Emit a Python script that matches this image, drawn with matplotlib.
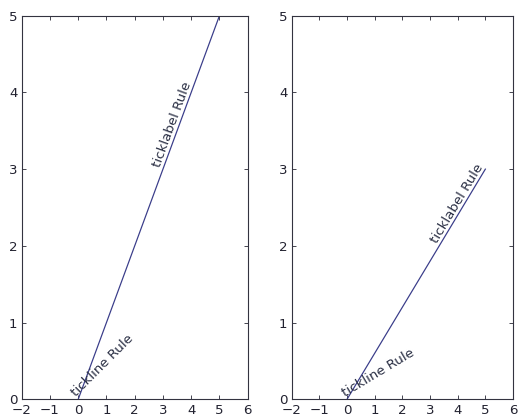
import numpy as np
import matplotlib
matplotlib.use("Agg")
import matplotlib.pyplot as plt

# Data
left_x = [0, 5]
left_y = [0, 5]
right_x = [0, 5]
right_y = [0, 3]
left_label_pos = (3, 3)
right_label_pos = (3.35, 2.0)
xlim = (-2, 6)
ylim = (0, 5)
xticks = [-2, -1, 0, 1, 2, 3, 4, 5, 6]
yticks = [0, 1, 2, 3, 4, 5]
label_line = "tickline Rule"
label_tick = "ticklabel Rule"

DPI = 80
plt.rcParams.update({
    "font.family": "DejaVu Sans",
    "font.size": 12,
    "xtick.direction": "in",
    "ytick.direction": "in",
    "xtick.top": True,
    "ytick.right": True,
    "xtick.major.size": 4,
    "ytick.major.size": 4,
    "xtick.major.pad": 4,
    "ytick.major.pad": 4,
    "xtick.color": "#333340",
    "ytick.color": "#333340",
    "axes.edgecolor": "#333340",
})

fig = plt.figure(figsize=(519 / DPI, 416 / DPI), dpi=DPI, facecolor="white")
W, H = 519, 416
ax1 = fig.add_axes([21.7 / W, 1 - 399.3 / H, (247.7 - 21.7) / W, (399.3 - 15.7) / H])
ax2 = fig.add_axes([291.7 / W, 1 - 399.3 / H, (513 - 291.7) / W, (399.3 - 15.7) / H])

line_color = "#3a3d8a"
text_color = "#2b3045"

for ax, xs, ys, lpos in [(ax1, left_x, left_y, left_label_pos),
                         (ax2, right_x, right_y, right_label_pos)]:
    ax.plot(xs, ys, color=line_color, lw=1.1)
    ax.set_xlim(*xlim)
    ax.set_ylim(*ylim)
    ax.set_xticks(xticks)
    ax.set_yticks(yticks)
    ax.set_xticklabels([str(t).replace("-", "\u2212") for t in xticks])
    ax.set_yticklabels([str(t) for t in yticks])
    for s in ax.spines.values():
        s.set_linewidth(1.0)
    ax.tick_params(labelcolor="#222230")
    # data-space angle
    data_angle = np.degrees(np.arctan2(ys[1] - ys[0], xs[1] - xs[0]))
    ax.text(xs[0], ys[0], label_line, rotation=data_angle, rotation_mode="anchor",
            ha="left", va="bottom", color=text_color, fontsize=12)
    # screen-space angle
    fig.canvas.draw()
    screen_angle = ax.transData.transform_angles(np.array([data_angle]),
                                                 np.array([lpos]))[0]
    ax.text(lpos[0], lpos[1], label_tick, rotation=screen_angle, rotation_mode="anchor",
            ha="left", va="bottom", color=text_color, fontsize=12)

fig.savefig("out.png", dpi=DPI, facecolor="white")
